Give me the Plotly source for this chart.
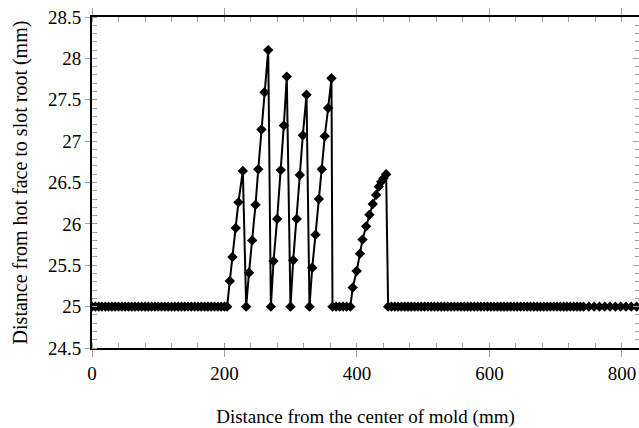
import plotly.graph_objects as go

# Slot-root depth profile along the mold (mm)
BASE_LEVEL = 25.0

# flat stretch from the mold centre up to the first slot
base_left_x = [0, 5, 10, 15, 20, 25, 30, 35, 40, 45, 50, 55, 60, 65, 70, 75, 80,
               85, 90, 95, 100, 105, 110, 115, 120, 125, 130, 135, 140, 145, 150,
               155, 160, 165, 170, 175, 180, 185, 190, 195, 200, 204]

# slotted region: five saw-tooth ramps and the final slope
profile_x = [208, 212, 217, 221, 227.7,
             232.7, 237, 241.8, 246.8, 251, 255.8, 260.4, 266,
             270, 274, 279.5, 285, 289.6, 294,
             299.6, 303.7, 309, 313.7, 318.2, 323.8,
             328.3, 332.4, 337.4, 342.4, 346.9, 351.4, 356.5, 361.5,
             363, 368.5, 373.6, 379, 384.4, 390,
             393.5, 399.5, 404.5, 408.3, 413.8, 418.8, 423.9, 428.9, 432.9,
             436.6, 440, 444,
             447]
profile_y = [25.31, 25.60, 25.95, 26.26, 26.64,
             25.0, 25.41, 25.80, 26.23, 26.66, 27.14, 27.59, 28.10,
             25.0, 25.55, 26.06, 26.65, 27.19, 27.78,
             25.0, 25.56, 26.06, 26.59, 27.07, 27.56,
             25.0, 25.47, 25.87, 26.30, 26.66, 27.06, 27.40, 27.76,
             25.0, 25.0, 25.0, 25.0, 25.0, 25.0,
             25.23, 25.43, 25.64, 25.81, 25.97, 26.11, 26.24, 26.35, 26.45,
             26.51, 26.55, 26.60,
             25.0]

# flat stretch after the slots, out to the mold edge
base_right_x = [452, 457, 462, 467, 472, 477, 482, 487, 492, 497, 502, 507, 512,
                517, 522, 527, 532, 537, 542, 547, 552, 557, 562, 567, 572, 577,
                582, 587, 592, 597, 602, 607, 612, 617, 622, 627, 632, 637, 642,
                647, 652, 657, 662, 667, 672, 677, 682, 687, 692, 697, 702, 707,
                712, 717, 722, 727, 732, 737, 742,
                750, 758, 766, 774, 782, 790, 798, 806, 814, 822, 830]

x_all = base_left_x + profile_x + base_right_x
y_all = [BASE_LEVEL] * len(base_left_x) + profile_y + [BASE_LEVEL] * len(base_right_x)

FONT = "Liberation Serif, Times New Roman, serif"
TICK_GRAY = "#a0a0a0"

fig = go.Figure()
fig.add_trace(go.Scatter(
    x=x_all, y=y_all, mode="lines+markers",
    line=dict(color="black", width=2),
    marker=dict(symbol="diamond", size=8, color="black"),
    showlegend=False, cliponaxis=True,
))
# carrier for the right-hand tick column
fig.add_trace(go.Scatter(x=[None], y=[None], yaxis="y2", showlegend=False,
                         hoverinfo="skip"))

fig.update_layout(
    width=639, height=428,
    margin=dict(l=92, r=0, t=17, b=80),
    paper_bgcolor="white", plot_bgcolor="white",
    font=dict(family=FONT, size=19, color="black"),
    xaxis=dict(
        range=[0, 825.7], dtick=200, tick0=0,
        showgrid=False, zeroline=False,
        showline=True, linecolor="black", linewidth=2, mirror="ticks",
        ticks="outside", ticklen=7, tickcolor=TICK_GRAY, tickwidth=1,
        minor=dict(dtick=40, ticks="inside", ticklen=5, tickcolor=TICK_GRAY),
        title=dict(text="Distance from the center of mold (mm)",
                   font=dict(size=19), standoff=28),
        tickfont=dict(size=19),
    ),
    yaxis=dict(
        range=[24.5, 28.5], dtick=0.5, tick0=24.5,
        showgrid=False, zeroline=False,
        showline=True, linecolor="black", linewidth=2, mirror=False,
        ticks="outside", ticklen=5, tickcolor=TICK_GRAY, tickwidth=1,
        minor=dict(dtick=0.1, ticks="inside", ticklen=5, tickcolor=TICK_GRAY),
        title=dict(text="Distance from hot face to slot root (mm)",
                   font=dict(size=20), standoff=15),
        tickfont=dict(size=19),
    ),
    yaxis2=dict(
        overlaying="y", side="right", range=[24.5, 28.5], dtick=0.5, tick0=24.5,
        showgrid=False, zeroline=False, showline=False, showticklabels=False,
        ticks="inside", ticklen=6, tickcolor=TICK_GRAY, tickwidth=1,
        minor=dict(dtick=0.1, ticks="inside", ticklen=4, tickcolor=TICK_GRAY),
    ),
)

fig.write_html("out.html")
